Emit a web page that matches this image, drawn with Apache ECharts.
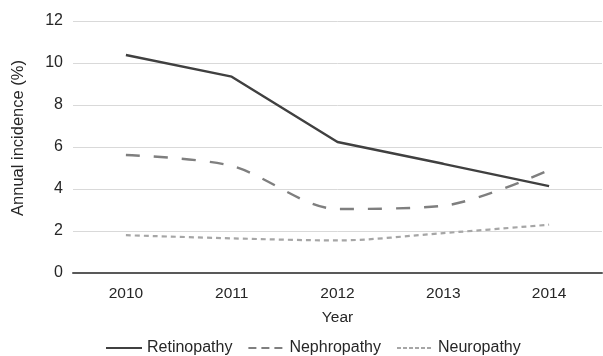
<!DOCTYPE html>
<html>
<head>
<meta charset="utf-8">
<script src="https://cdn.jsdelivr.net/npm/echarts@6/dist/echarts.min.js"></script>
<style>
  html, body { margin: 0; padding: 0; background: #fff; }
  #chart { width: 603px; height: 356px; }
</style>
</head>
<body>
<div id="chart"></div>
<script>
// annual incidence by complication, 2010-2014
const years = ['2010', '2011', '2012', '2013', '2014']
const retinopathy = [10.38, 9.35, 6.24, 5.2, 4.14]
const nephropathy = [5.62, 5.1, 3.05, 3.2, 4.9]
const neuropathy = [1.8, 1.65, 1.55, 1.9, 2.3]

const chart = echarts.init(document.getElementById('chart'), null, { renderer: 'canvas' })
const font = 'Liberation Sans, Arial, sans-serif'
const ink = '#262626'

chart.setOption({
  animation: false,
  backgroundColor: '#fff',
  textStyle: { fontFamily: font },
  grid: { left: 73, right: 1, top: 21, bottom: 83 },
  legend: {
    top: 335, left: 100, itemGap: 15, itemWidth: 36, itemHeight: 12,
    itemStyle: { opacity: 0 },
    textStyle: { color: ink, fontSize: 16, fontFamily: font },
    data: [
      { name: 'Retinopathy' },
      { name: 'Nephropathy', lineStyle: { type: [8, 5] } },
      { name: 'Neuropathy', lineStyle: { type: [4, 2] } },
    ],
  },
  xAxis: {
    type: 'category', data: years, boundaryGap: true,
    name: 'Year', nameLocation: 'middle', nameGap: 37,
    nameTextStyle: { color: ink, fontSize: 15.5 },
    axisLine: { lineStyle: { color: '#595959', width: 2 } },
    axisTick: { show: false },
    axisLabel: { color: ink, fontSize: 15.5, margin: 13 },
  },
  yAxis: {
    type: 'value', min: 0, max: 12, interval: 2,
    name: 'Annual incidence (%)', nameLocation: 'middle', nameGap: 46,
    nameTextStyle: { color: ink, fontSize: 16.5, padding: [0, 0, 0, 18] },
    axisLine: { show: false }, axisTick: { show: false },
    axisLabel: { color: ink, fontSize: 16, margin: 10 },
    splitLine: { lineStyle: { color: '#d9d9d9', width: 1 } },
  },
  series: [
    {
      name: 'Retinopathy', type: 'line', data: retinopathy, symbol: 'none',
      lineStyle: { color: '#404040', width: 2.4 }, itemStyle: { color: '#404040' },
    },
    {
      name: 'Nephropathy', type: 'line', data: nephropathy, symbol: 'none', smooth: 0.3,
      lineStyle: { color: '#7f7f7f', width: 2.4, type: [14, 14] }, itemStyle: { color: '#7f7f7f' },
    },
    {
      name: 'Neuropathy', type: 'line', data: neuropathy, symbol: 'none', smooth: 0.3,
      lineStyle: { color: '#a6a6a6', width: 2.2, type: [5, 4] }, itemStyle: { color: '#a6a6a6' },
    },
  ],
})
</script>
</body>
</html>
